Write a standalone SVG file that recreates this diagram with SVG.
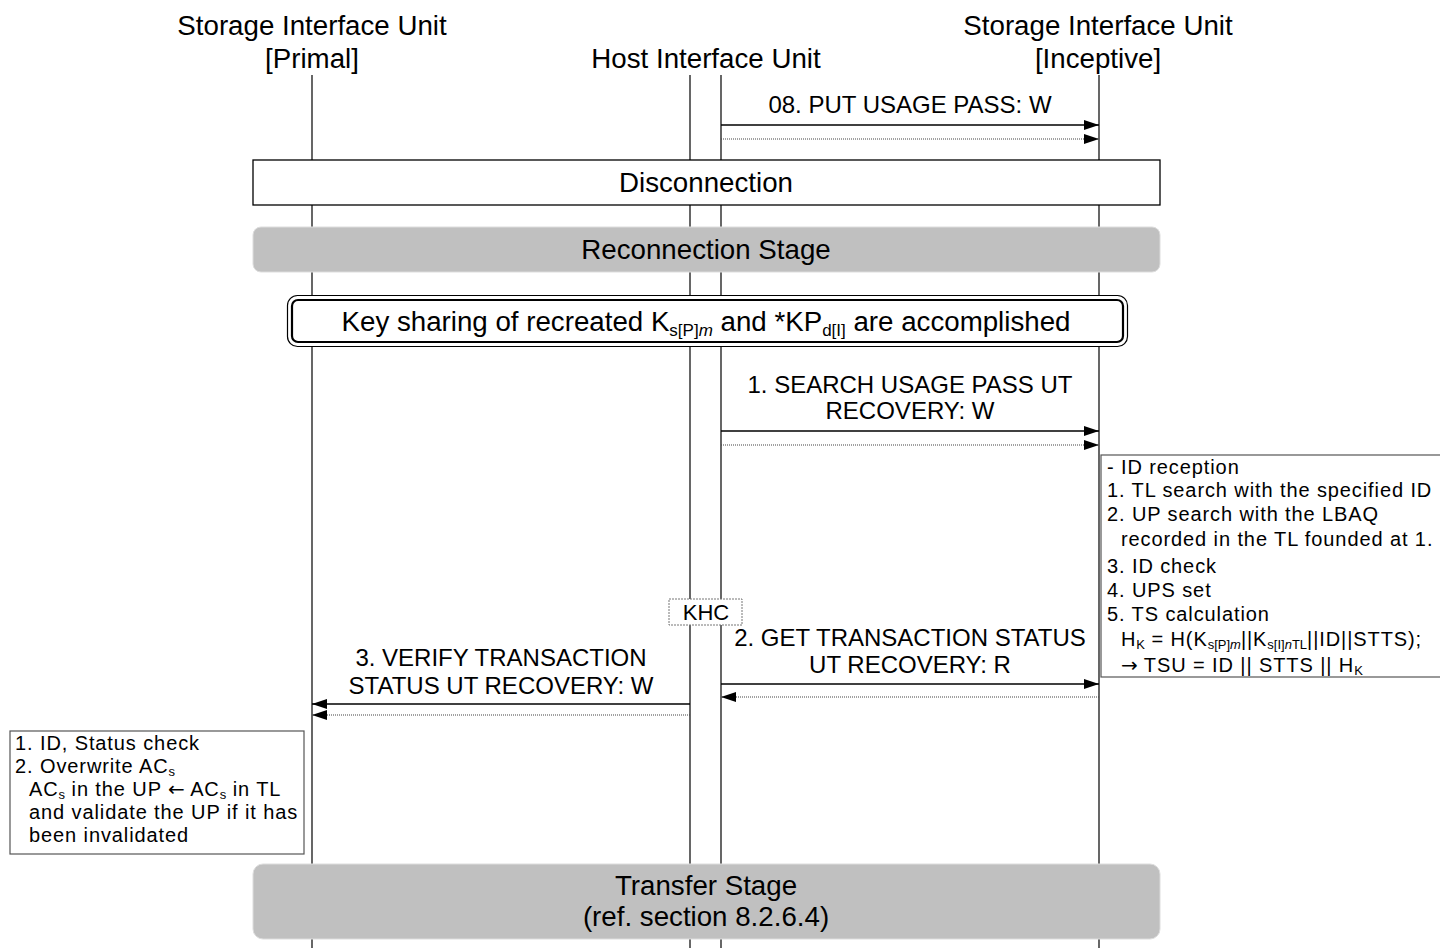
<svg xmlns="http://www.w3.org/2000/svg" width="1440" height="948" viewBox="0 0 1440 948">
<style>
text{font-family:"Liberation Sans",Arial,sans-serif;fill:#000}
.hd{font-size:27.7px;text-anchor:middle}
.lb{font-size:24px;text-anchor:middle}
.bx{font-size:27.7px;text-anchor:middle}
.nt{font-size:20px;letter-spacing:0.9px}
.ar{font-family:"DejaVu Sans",sans-serif;letter-spacing:0}
.life{stroke:#000;stroke-width:1.2;fill:none}
.sol{stroke:#000;stroke-width:1.3;fill:none}
.dot{stroke:#444;stroke-width:1.2;stroke-dasharray:1 1;fill:none}
.stage{fill:#c0c0c0;stroke:#ddd;stroke-width:1}
.s13{font-size:13px;letter-spacing:0}
.s17{font-size:17px}
</style>
<defs>
<marker id="ah" viewBox="0 0 15 10" refX="15" refY="5" markerWidth="15" markerHeight="10" markerUnits="userSpaceOnUse" orient="auto">
<path d="M0,0 L15,5 L0,10 z" fill="#000"/>
</marker>
</defs>

<g id="lifelines">
<line class="life" x1="312" y1="75" x2="312" y2="948"/>
<line class="life" x1="690" y1="75" x2="690" y2="948"/>
<line class="life" x1="721" y1="75" x2="721" y2="948"/>
<line class="life" x1="1099" y1="75" x2="1099" y2="948"/>
</g>

<g id="headers">
<text class="hd" x="312" y="35">Storage Interface Unit</text>
<text class="hd" x="312" y="68">[Primal]</text>
<text class="hd" x="706" y="68">Host Interface Unit</text>
<text class="hd" x="1098" y="35">Storage Interface Unit</text>
<text class="hd" x="1098" y="68">[Inceptive]</text>
</g>

<g id="disconnection">
<rect x="253" y="160" width="907" height="45" fill="#fff" stroke="#000" stroke-width="1.3"/>
<text class="bx" x="706" y="192">Disconnection</text>
</g>

<g id="reconnection">
<rect class="stage" x="253" y="227" width="907" height="45" rx="8"/>
<text class="bx" x="706" y="259">Reconnection Stage</text>
</g>

<g id="keysharing">
<rect x="287.5" y="295.5" width="840" height="51" rx="10" fill="#fff" stroke="#000" stroke-width="1.2"/>
<rect x="292" y="300" width="831" height="42" rx="6" fill="none" stroke="#000" stroke-width="2.2"/>
<text class="bx" x="706" y="331">Key sharing of recreated K<tspan class="s17" dy="5">s[P]</tspan><tspan class="s17" font-style="italic">m</tspan><tspan dy="-5"> and *KP</tspan><tspan class="s17" dy="5">d[I]</tspan><tspan dy="-5"> are accomplished</tspan></text>
</g>

<g id="khc">
<rect x="669" y="599" width="73" height="26" fill="#fff" stroke="#777" stroke-width="1" stroke-dasharray="2 1"/>
<text x="706" y="620" font-size="22" text-anchor="middle">KHC</text>
</g>

<g id="note-right">
<rect x="1101" y="455" width="345" height="222" fill="#fff" stroke="#555" stroke-width="1.2"/>
<text class="nt" x="1107" y="474">- ID reception</text>
<text class="nt" x="1107" y="497">1. TL search with the specified ID</text>
<text class="nt" x="1107" y="521">2. UP search with the LBAQ</text>
<text class="nt" x="1121" y="546">recorded in the TL founded at 1.</text>
<text class="nt" x="1107" y="573">3. ID check</text>
<text class="nt" x="1107" y="597">4. UPS set</text>
<text class="nt" x="1107" y="621">5. TS calculation</text>
<text class="nt" x="1121" y="646">H<tspan class="s13" dy="3">K</tspan><tspan dy="-3"> = H(K</tspan><tspan class="s13" dy="3">s[P]</tspan><tspan class="s13" font-style="italic">m</tspan><tspan dy="-3">||K</tspan><tspan class="s13" dy="3">s[I]</tspan><tspan class="s13" font-style="italic">n</tspan><tspan class="s13">TL</tspan><tspan dy="-3">||ID||STTS);</tspan></text>
<text class="nt" x="1121" y="672"><tspan class="ar">→</tspan> TSU = ID || STTS || H<tspan class="s13" dy="3">K</tspan></text>
</g>

<g id="note-left">
<rect x="10" y="731" width="294" height="123" fill="#fff" stroke="#555" stroke-width="1.2"/>
<text class="nt" x="15" y="750">1. ID, Status check</text>
<text class="nt" x="15" y="773">2. Overwrite AC<tspan class="s13" dy="3">s</tspan></text>
<text class="nt" x="29" y="796">AC<tspan class="s13" dy="3">s</tspan><tspan dy="-3"> in the UP </tspan><tspan class="ar">←</tspan> AC<tspan class="s13" dy="3">s</tspan><tspan dy="-3"> in TL</tspan></text>
<text class="nt" x="29" y="819">and validate the UP if it has</text>
<text class="nt" x="29" y="842">been invalidated</text>
</g>

<g id="transfer">
<rect class="stage" x="253" y="864" width="907" height="75" rx="10"/>
<text class="bx" x="706" y="895">Transfer Stage</text>
<text class="bx" x="706" y="926">(ref. section 8.2.6.4)</text>
</g>

<g id="connectors">
<line class="sol" x1="721" y1="125" x2="1099" y2="125" marker-end="url(#ah)"/>
<line class="dot" x1="721" y1="139" x2="1099" y2="139" marker-end="url(#ah)"/>
<text class="lb" x="910" y="113">08. PUT USAGE PASS: W</text>

<line class="sol" x1="721" y1="431" x2="1099" y2="431" marker-end="url(#ah)"/>
<line class="dot" x1="721" y1="445" x2="1099" y2="445" marker-end="url(#ah)"/>
<text class="lb" x="910" y="393">1. SEARCH USAGE PASS UT</text>
<text class="lb" x="910" y="419">RECOVERY: W</text>

<line class="sol" x1="721" y1="684" x2="1099" y2="684" marker-end="url(#ah)"/>
<line class="dot" x1="1099" y1="697" x2="721" y2="697" marker-end="url(#ah)"/>
<text class="lb" x="910" y="646">2. GET TRANSACTION STATUS</text>
<text class="lb" x="910" y="673">UT RECOVERY: R</text>

<line class="sol" x1="690" y1="704" x2="312" y2="704" marker-end="url(#ah)"/>
<line class="dot" x1="690" y1="715" x2="312" y2="715" marker-end="url(#ah)"/>
<text class="lb" x="501" y="666">3. VERIFY TRANSACTION</text>
<text class="lb" x="501" y="694">STATUS UT RECOVERY: W</text>
</g>
</svg>
